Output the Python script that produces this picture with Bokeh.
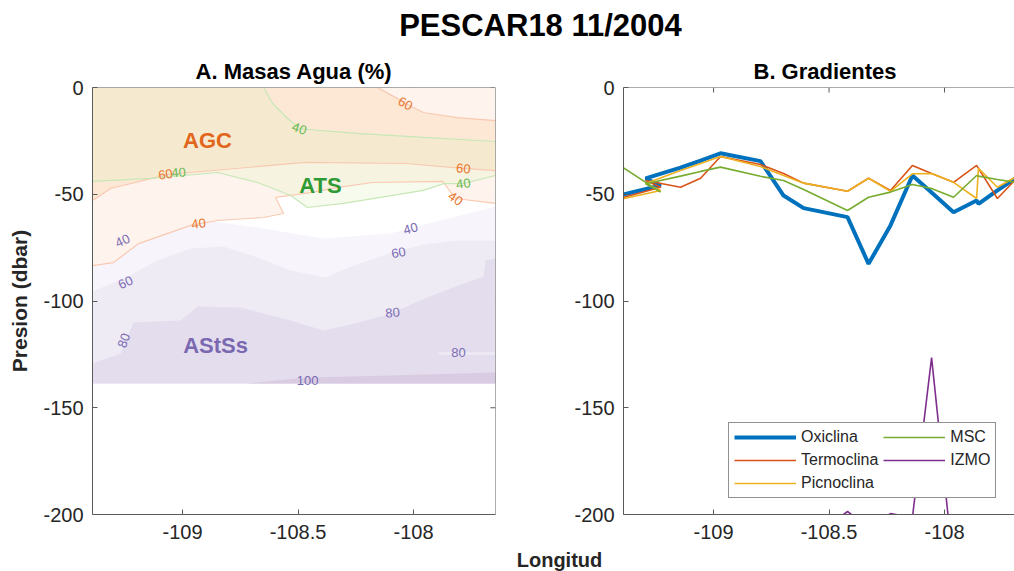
from bokeh.plotting import figure
from bokeh.models import Range1d, FixedTicker, Legend, LegendItem, ColumnDataSource, Span
from bokeh.layouts import column, row
from bokeh.embed import file_html
from bokeh.resources import INLINE
from bokeh.core.properties import value

FONT = "Liberation Sans"
TXT = "#262626"
AXL = "#5a5a5a"

# ---------------- shared axes ----------------
lon_lim_a = [-109.39, -107.645]
lon_lim_b = [-109.39, -107.697]
dep_lim = [-200, 0]
lon_ticks = [-109, -108.5, -108]
lon_tick_labels = ["-109", "-108.5", "-108"]
dep_ticks = [-200, -150, -100, -50, 0]
dep_tick_labels = ["-200", "-150", "-100", "-50", "0"]

# ---------------- Panel A: water-mass contour boundaries ----------------
depth_max = -138.6
agc60_upper_lon = [-108.156, -108.069, -108.035, -107.957, -107.810, -107.645]
agc60_upper_dep = [0, -5.2, -7.5, -11.7, -14.1, -15.5]
agc60_lower_lon = [-107.645, -107.784, -108.035, -108.468, -108.965, -109.061, -109.312, -109.390]
agc60_lower_dep = [-38.9, -37.9, -35.6, -35.1, -39.8, -40.7, -47.3, -52.9]
agc40_lon = [-107.645, -107.818, -107.874, -108.177, -108.325, -108.446, -108.597, -108.563,
             -108.649, -108.848, -108.965, -109.190, -109.299, -109.390]
agc40_dep = [-54.3, -52.0, -44.0, -44.5, -46.8, -49.2, -51.5, -59.0, -60.9, -62.3, -64.6,
             -73.1, -82.0, -83.4]
ats40_upper_lon = [-108.649, -108.610, -108.545, -108.494, -108.416, -108.242, -107.957, -107.645]
ats40_upper_dep = [0, -7.5, -14.5, -19.2, -20.1, -21.5, -23.4, -25.3]
ats40_lower_lon = [-107.645, -107.784, -107.870, -107.957, -108.303, -108.459, -108.532,
                   -108.675, -108.848, -109.139, -109.390]
ats40_lower_dep = [-41.2, -45.0, -45.0, -48.2, -54.3, -56.2, -50.6, -44.5, -39.8, -42.6, -44.0]
asts40_lon = [-109.390, -109.260, -109.095, -108.892, -108.675, -108.390, -108.100, -107.883, -107.645]
asts40_dep = [-76.3, -71.7, -67.0, -62.3, -65.6, -70.7, -68.4, -62.3, -55.7]
asts60_lon = [-109.390, -109.255, -109.108, -108.965, -108.823, -108.675, -108.532, -108.381,
              -108.281, -108.108, -107.957, -107.810, -107.645]
asts60_dep = [-95.6, -89.5, -81.0, -75.4, -74.5, -79.6, -85.7, -89.0, -84.3, -77.8, -73.5, -71.7, -71.7]
asts80_lon = [-109.390, -109.268, -109.212, -109.009, -108.935, -108.749, -108.532, -108.390,
              -108.273, -108.108, -107.961, -107.818, -107.697, -107.688, -107.645]
asts80_dep = [-129.3, -124.6, -110.1, -109.1, -102.6, -103.0, -109.1, -113.8, -111.0, -106.3,
              -99.3, -93.2, -88.5, -81.0, -80.1]
asts100_lon = [-108.719, -108.459, -108.100, -107.645]
asts100_dep = [-138.6, -135.8, -134.9, -133.5]
asts80_sliver_lon = [-107.892, -107.645]
asts80_sliver_dep = [-124.6, -124.6]

clabel_text = ["60", "40", "60", "40", "40", "60", "40", "40",
               "40", "40", "60", "60", "80", "80", "80", "100"]
clabel_mass = ["AGC", "ATS", "AGC", "ATS", "AGC", "AGC", "ATS", "AGC",
               "AStSs", "AStSs", "AStSs", "AStSs", "AStSs", "AStSs", "AStSs", "AStSs"]
clabel_lon = [-108.035, -108.494, -107.784, -107.784, -107.818, -109.074, -109.017, -108.931,
              -109.260, -108.013, -109.247, -108.065, -109.255, -108.091, -107.805, -108.459]
clabel_dep = [-7.5, -19.2, -37.9, -45.0, -52.0, -40.7, -39.8, -63.7,
              -71.7, -66.0, -91.3, -77.3, -118.5, -105.4, -124.1, -137.2]
clabel_angle = [-28, -20, -5, 8, -35, 8, 5, 8, 25, 15, 25, 10, 70, 5, 0, 0]

mass_names = ["AGC", "ATS", "AStSs"]
mass_lon = [-108.892, -108.403, -108.857]
mass_dep = [-24.8, -45.7, -120.8]

# ---------------- Panel B: gradients ----------------
station_lon = [-109.391, -109.229, -109.294, -109.143, -109.056, -108.970, -108.797, -108.697,
               -108.610, -108.420, -108.329, -108.234, -108.139, -108.056, -107.961, -107.861,
               -107.853, -107.771, -107.688]
oxiclina = [-50.1, -45.9, -42.6, -37.5, -34.2, -30.8, -34.5, -50.6, -56.5, -60.7, -82.6, -64.6,
            -41.2, -49.2, -58.4, -52.9, -54.5, -48.2, -42.2]
termoclina = [-51.5, -46.7, -43.6, -46.7, -42.5, -32.3, -36.1, -40.3, -44.8, -48.6, -42.5, -48.2,
              -36.5, -40.3, -44.4, -36.5, -37.9, -52.0, -42.6]
picnoclina = [-52.1, -48.2, -45.0, -38.9, -35.6, -32.3, -37.0, -41.2, -44.8, -48.6, -42.5, -48.6,
              -40.4, -40.3, -44.4, -52.0, -37.9, -46.7, -41.7]
msc = [-37.6, -49.0, -45.1, -41.5, -39.3, -37.3, -41.6, -43.6, -47.8, -57.6, -51.4, -49.0,
       -45.4, -47.3, -51.4, -41.2, -41.5, -43.1, -44.5]
izmo = [-260, -255, -250, -245, -240, -235, -230, -225, -214, -198.6, -206, -199.6,
        -201.4, -126.5, -225, -240, -245, -250, -255]

# ---------------- layout constants (pixels) ----------------
TOP_H, MID_H, BOT_H = 50, 497, 24
BORDER_TOP = 37
FRAME_H = 427
FRAME_W_A, FRAME_W_B = 403, 391
TICK_PX = 5


def style_axis(ax, ticks, labels):
    ax.ticker = FixedTicker(ticks=ticks)
    ax.major_label_overrides = {float(t): l for t, l in zip(ticks, labels)}
    ax.axis_line_color = AXL
    ax.axis_line_width = 1
    ax.major_tick_line_color = AXL
    ax.major_tick_line_width = 1
    ax.major_tick_in = TICK_PX
    ax.major_tick_out = 0
    ax.minor_tick_line_color = None
    ax.major_label_text_font = FONT
    ax.major_label_text_color = TXT
    ax.major_label_text_font_size = "20px"


def base_fig(width, x_lim, mbl, mbr, title):
    p = figure(width=width, height=MID_H, x_range=Range1d(*x_lim), y_range=Range1d(*dep_lim),
               output_backend="svg", toolbar_location=None,
               min_border_left=mbl, min_border_right=mbr, min_border_top=BORDER_TOP,
               min_border_bottom=MID_H - BORDER_TOP - FRAME_H)
    p.outline_line_color = None
    p.xgrid.visible = False
    p.ygrid.visible = False
    p.background_fill_color = "white"
    p.border_fill_color = "white"
    p.title.text = title
    p.title.text_font = FONT
    p.title.text_font_size = "22px"
    p.title.text_font_style = "bold"
    p.title.text_color = "black"
    p.title.standoff = 8
    style_axis(p.xaxis[0], lon_ticks, lon_tick_labels)
    style_axis(p.yaxis[0], dep_ticks, dep_tick_labels)
    p.xaxis[0].major_label_standoff = 10
    p.yaxis[0].major_label_standoff = 9
    # top border and inward top ticks (box on)
    p.add_layout(Span(location=dep_lim[1], dimension="width", line_color=AXL, line_width=1))
    tick_dy = TICK_PX * (dep_lim[1] - dep_lim[0]) / FRAME_H
    p.segment(x0=lon_ticks, y0=[dep_lim[1]] * len(lon_ticks), x1=lon_ticks,
              y1=[dep_lim[1] - tick_dy] * len(lon_ticks), line_color=AXL, line_width=1)
    return p


# ---------------- Panel A figure ----------------
pa = base_fig(500, lon_lim_a, 92, 500 - 92 - FRAME_W_A, "A. Masas Agua (%)")
pa.title.align = "center"
L0, L1 = lon_lim_a
pa.add_layout(Span(location=L1, dimension="height", line_color=AXL, line_width=1))
tick_dx = TICK_PX * (L1 - L0) / FRAME_W_A
pa.segment(x0=[L1] * len(dep_ticks), y0=dep_ticks, x1=[L1 - tick_dx] * len(dep_ticks), y1=dep_ticks,
           line_color=AXL, line_width=1)
pa.yaxis[0].axis_label = "Presion (dbar)"
pa.yaxis[0].axis_label_text_font = FONT
pa.yaxis[0].axis_label_text_font_size = "21px"
pa.yaxis[0].axis_label_text_font_style = "bold"
pa.yaxis[0].axis_label_text_color = TXT
pa.yaxis[0].axis_label_standoff = 9

purple_layers = [
    (asts40_lon, asts40_dep, "#f7f5fb"),
    (asts60_lon, asts60_dep, "#efebf5"),
    (asts80_lon, asts80_dep, "#e4dded"),
]
for lx, ly, col in purple_layers:
    pa.patch(list(lx) + [L1, L0], list(ly) + [depth_max, depth_max], fill_color=col, line_color=None)
pa.patch(list(asts100_lon) + [L1], list(asts100_dep) + [depth_max],
         fill_color="#d8cbe2", line_color=None)
pa.line(asts80_sliver_lon, asts80_sliver_dep, line_color="#eeeaf4", line_width=2.5)

# AGC >= 40
pa.patch([L0, L1] + agc40_lon, [0, 0] + agc40_dep, fill_color="#fff4ed", line_color=None)
# AGC >= 60
pa.patch([L0] + agc60_upper_lon + agc60_lower_lon, [0] + agc60_upper_dep + agc60_lower_dep,
         fill_color="#fde8d6", line_color=None)
# ATS >= 40 overlay
pa.patch([L0] + ats40_upper_lon + ats40_lower_lon, [0] + ats40_upper_dep + ats40_lower_dep,
         fill_color="#e2f0c0", fill_alpha=0.27, line_color=None)

for lx, ly in [(agc60_upper_lon, agc60_upper_dep), (agc60_lower_lon, agc60_lower_dep),
               (agc40_lon, agc40_dep)]:
    pa.line(lx, ly, line_color="#f9c9b1", line_width=1.2)
for lx, ly in [(ats40_upper_lon, ats40_upper_dep), (ats40_lower_lon, ats40_lower_dep)]:
    pa.line(lx, ly, line_color="#c7e7b7", line_width=1.2)

mass_color = {"AGC": "#e8772e", "ATS": "#6bb955", "AStSs": "#7b6cb3"}
mass_big_color = {"AGC": "#e1661b", "ATS": "#2f9a34", "AStSs": "#7a69b1"}
csrc = ColumnDataSource(dict(x=clabel_lon, y=clabel_dep, t=clabel_text, a=clabel_angle,
                             c=[mass_color[m] for m in clabel_mass]))
pa.text(x="x", y="y", text="t", angle="a", angle_units="deg", text_color="c", source=csrc,
        text_font=value(FONT), text_font_size="13px", text_align="center", text_baseline="middle")
msrc = ColumnDataSource(dict(x=mass_lon, y=mass_dep, t=mass_names,
                             c=[mass_big_color[m] for m in mass_names]))
pa.text(x="x", y="y", text="t", text_color="c", source=msrc, text_font=value(FONT),
        text_font_size="22px", text_font_style="bold", text_align="center", text_baseline="middle")

# ---------------- Panel B figure ----------------
pb = base_fig(514, lon_lim_b, 514 - FRAME_W_B, 0, "B. Gradientes")
pb.title.align = "left"
pb.title.offset = 130
series = [
    ("Oxiclina", oxiclina, "#0072BD", 4.0),
    ("Termoclina", termoclina, "#D95319", 1.6),
    ("Picnoclina", picnoclina, "#EDB120", 1.6),
    ("MSC", msc, "#77AC30", 1.6),
    ("IZMO", izmo, "#7E2F8E", 1.6),
]
items = []
for name, vals, col, w in series:
    r = pb.line(station_lon, vals, line_color=col, line_width=w)
    items.append(LegendItem(label=value(name), renderers=[r]))
legend = Legend(items=items, ncols=2, location=(105, 16))
legend.border_line_color = TXT
legend.border_line_width = 1
legend.background_fill_color = "white"
legend.background_fill_alpha = 1.0
legend.label_text_font = FONT
legend.label_text_font_size = "16px"
legend.label_text_color = TXT
legend.glyph_width = 62
legend.glyph_height = 18
legend.label_height = 18
legend.label_standoff = 5
legend.spacing = 5
legend.padding = 5
legend.margin = 0
pb.add_layout(legend)

# ---------------- title strip ----------------
top = figure(width=1014, height=TOP_H, x_range=Range1d(0, 1014), y_range=Range1d(0, TOP_H),
             output_backend="svg", toolbar_location=None, min_border=0,
             x_axis_type=None, y_axis_type=None)
top.outline_line_color = None
top.background_fill_color = "white"
top.border_fill_color = "white"
top.text(x=[540], y=[TOP_H - 25], text=["PESCAR18 11/2004"], text_font=value(FONT),
         text_font_size="31px", text_font_style="bold", text_color="black",
         text_align="center", text_baseline="middle")

# ---------------- shared x-axis title strip ----------------
bottom = figure(width=1014, height=BOT_H, x_range=Range1d(0, 1014), y_range=Range1d(0, BOT_H),
                output_backend="svg", toolbar_location=None, min_border=0,
                x_axis_type=None, y_axis_type=None)
bottom.outline_line_color = None
bottom.background_fill_color = "white"
bottom.border_fill_color = "white"
bottom.text(x=[559], y=[BOT_H / 2], text=["Longitud"], text_font=value(FONT),
            text_font_size="20px", text_font_style="bold", text_color=TXT,
            text_align="center", text_baseline="middle")

layout = column(top, row(pa, pb), bottom)
open("out.html", "w").write(file_html(layout, INLINE))
